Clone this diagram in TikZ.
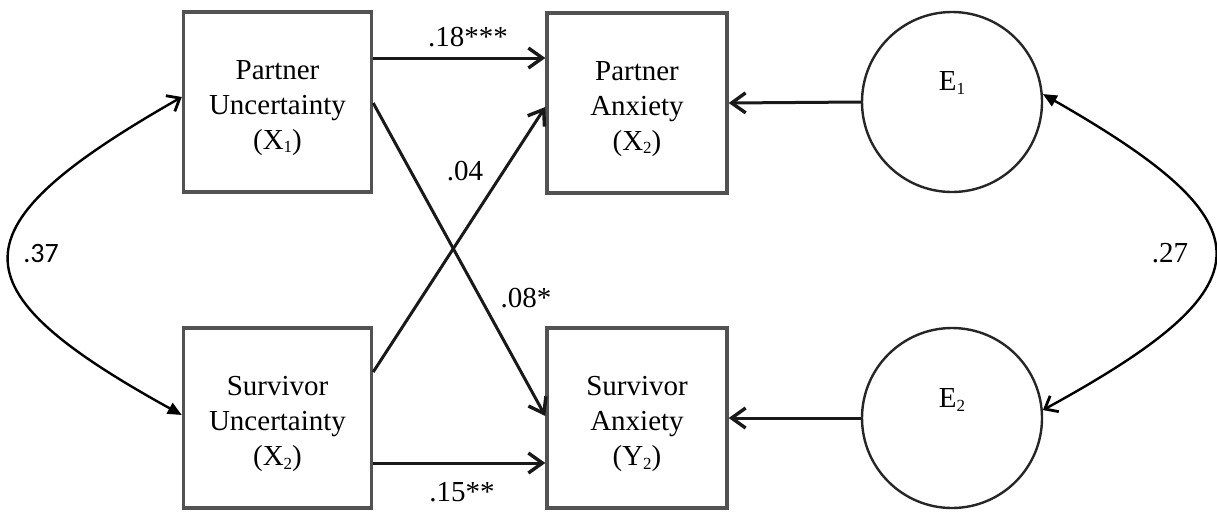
\documentclass[tikz,border=0pt]{standalone}
\usepackage{fontspec}
\setmainfont{Liberation Serif}
\newfontfamily\calibrifont{Carlito}
\usetikzlibrary{arrows.meta}

% small index set low beside a variable letter
\newcommand{\idx}[1]{\raisebox{-0.12em}{\fontsize{17}{17}\selectfont #1}}

\tikzset{
  varbox/.style={draw=black!68, line width=3.4pt, minimum width=188pt, minimum height=180pt, inner sep=0pt},
  resbox/.style={draw=black!68, line width=3.4pt, minimum width=180pt, minimum height=180pt, inner sep=0pt},
  errcirc/.style={draw=black!85, line width=2.4pt, circle, minimum size=180pt, inner sep=0pt},
  boxtext/.style={align=center, font=\fontsize{29}{35}\selectfont, inner sep=0pt},
  coef/.style={font=\fontsize{29}{35}\selectfont, inner sep=0pt},
  path/.style={draw=black!90, line width=3pt, -{Straight Barb[length=14pt,width=20pt,line width=3.4pt]}},
  covar/.style={draw=black, line width=2.4pt},
  openhead/.tip={Straight Barb[length=11pt,width=18pt,line width=2.8pt]},
  filledhead/.tip={Triangle[length=14pt,width=12pt]}
}

\begin{document}
\begin{tikzpicture}[x=1pt,y=-1pt]
\useasboundingbox (0,0) rectangle (1217,512);

% observed variables
\node[varbox] (pu) at (277.5,102) {};
\node[varbox] (su) at (277.5,418) {};
\node[resbox] (pa) at (637,103) {};
\node[resbox] (sa) at (637,418) {};
\node[boxtext] (put) at ([yshift=-6pt]pu.center) {Partner\\Uncertainty\\(X\idx{1})};
\node[boxtext] (sut) at ([yshift=-6pt]su.center) {Survivor\\Uncertainty\\(X\idx{2})};
\node[boxtext] (pat) at ([yshift=-6pt]pa.center) {Partner\\Anxiety\\(X\idx{2})};
\node[boxtext] (sat) at ([yshift=-6pt]sa.center) {Survivor\\Anxiety\\(Y\idx{2})};

% error terms
\node[errcirc] (e1) at (952,102) {};
\node[errcirc] (e2) at (952,418) {};
\node[coef] (e1t) at ([yshift=19pt]e1.center) {E\idx{1}};
\node[coef] (e2t) at ([yshift=18pt]e2.center) {E\idx{2}};

% regression paths
\draw[path] ([yshift=44pt]pu.east) -- ([yshift=45pt]pa.west);
\draw[path] ([yshift=-45pt]su.east) -- ([yshift=-45pt]sa.west);
\draw[path] ([yshift=-1pt]pu.east) -- ([yshift=2pt]sa.west);
\draw[path] ([yshift=46pt]su.east) -- ([yshift=-4pt]pa.west);
\draw[path] (e1.west) -- (pa.east);
\draw[path] (e2.west) -- (sa.east);

% path coefficients
\node[coef] (c18) at (468,37) {.18***};
\node[coef] (c04) at (465,171) {.04};
\node[coef] (c08) at (526,298) {.08*};
\node[coef] (c15) at (462,492) {.15**};

% covariances
\draw[covar, {openhead}-{filledhead}] ([yshift=5pt]pu.west) .. controls (-48,228) and (-48,288) .. ([yshift=3pt]su.west);
\draw[covar, {filledhead}-{openhead}] (e1.5) .. controls (1272,225) and (1272,285) .. (e2.5);
\node[coef, font=\calibrifont\fontsize{28}{34}\selectfont] (c37) at (41,254) {.37};
\node[coef] (c27) at (1170,253) {.27};
\end{tikzpicture}
\end{document}
